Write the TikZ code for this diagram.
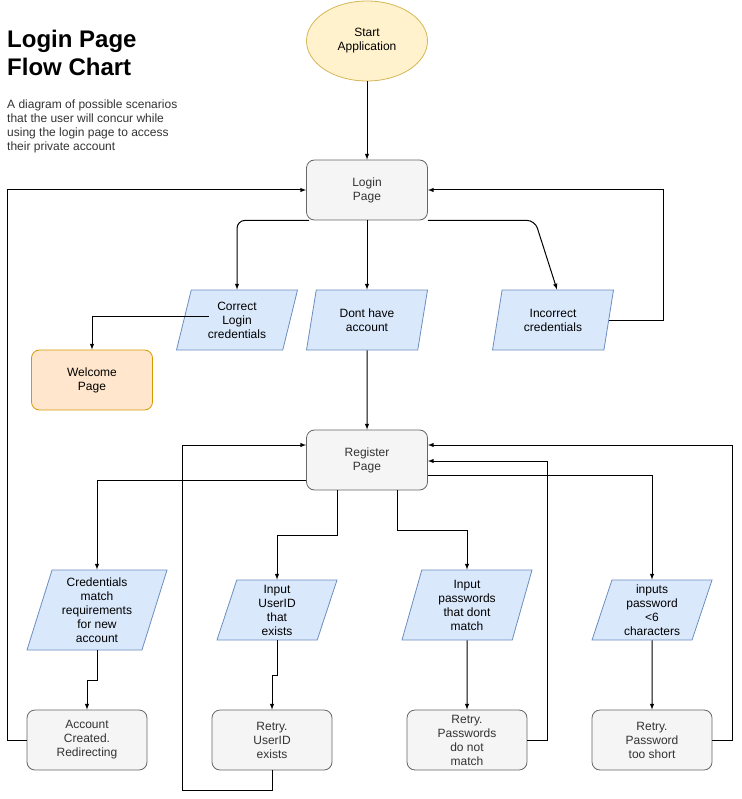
\documentclass[tikz,border=0pt]{standalone}
\usepackage{fontspec}
\setmainfont{Liberation Sans}
\usetikzlibrary{shapes.geometric, arrows}

\definecolor{startfill}{HTML}{FFF2CC}
\definecolor{startdraw}{HTML}{D6B656}
\definecolor{procfill}{HTML}{F5F5F5}
\definecolor{procdraw}{HTML}{666666}
\definecolor{iofill}{HTML}{DAE8FC}
\definecolor{iodraw}{HTML}{6C8EBF}
\definecolor{endfill}{HTML}{FFE6CC}
\definecolor{enddraw}{HTML}{D79B00}
\definecolor{textgray}{HTML}{333333}

\tikzstyle{startstop} = [ellipse, minimum width=121pt, minimum height=80pt, inner sep=0pt, align=center, line width=0.8pt, draw=startdraw, fill=startfill]
\tikzstyle{process} = [rectangle, rounded corners=8pt, minimum width=121pt, minimum height=60pt, inner sep=2pt, align=center, line width=0.8pt, draw=procdraw, fill=procfill, text=textgray]
\tikzstyle{welcome} = [process, draw=enddraw, fill=endfill, text=black]
\tikzstyle{io} = [trapezium, trapezium left angle=70, trapezium right angle=110, trapezium stretches body, minimum width=121pt, minimum height=60pt, inner sep=2pt, align=center, line width=0.8pt, draw=iodraw, fill=iofill]
\tikzstyle{arrow} = [line width=1pt,-latex]

\begin{document}
\begin{tikzpicture}[x=1pt, y=-1pt, font=\fontsize{12}{14}\selectfont]
\useasboundingbox (0,0) rectangle (741,799);

\node (title) [anchor=north west, inner sep=0pt, align=left, font=\fontsize{24}{28}\selectfont\bfseries] at (7,30) {Login Page\\Flow Chart};
\node (about) [anchor=north west, inner sep=0pt, align=left, text=textgray] at (7,100) {A diagram of possible scenarios\\that the user will concur while\\using the login page to access\\their private account};

\node (start) [startstop] at (367,41) {Start\\Application};
\node (login) [process, below of=start, node distance=149pt] {Login\\Page};
\node (dont) [io, below of=login, node distance=130pt] {Dont have\\account};
\node (correct) [io, left of=dont, node distance=130pt] {Correct\\Login\\credentials};
\node (incorrect) [io, right of=dont, node distance=186pt] {Incorrect\\credentials};
\node (welcome) [welcome] at (92,380) {Welcome\\Page};
\node (register) [process, below of=dont, node distance=140pt] {Register\\Page};

\node (cred) [io, minimum width=140pt, minimum height=80pt] at (97,610) {Credentials\\match\\requirements\\for new\\account};
\node (userid) [io, minimum width=120pt] at (277,610) {Input\\UserID\\that\\exists};
\node (pwmatch) [io, minimum width=130pt, minimum height=70pt] at (467,605) {Input\\passwords\\that dont\\match};
\node (pwshort) [io, minimum width=120pt] at (652,610) {inputs\\password\\<6\\characters};

\node (created) [process, minimum width=120pt] at (87,740) {Account\\Created.\\Redirecting};
\node (retryid) [process, minimum width=120pt] at (272,740) {Retry.\\UserID\\exists};
\node (retrypw) [process, minimum width=120pt, below of=pwmatch, node distance=135pt] {Retry.\\Passwords\\do not\\match};
\node (retryshort) [process, minimum width=120pt, below of=pwshort, node distance=130pt] {Retry.\\Password\\too short};

\draw [arrow] (start) -- (login);
\draw [arrow, rounded corners=8pt] ([xshift=3pt]login.south west) -| (correct);
\draw [arrow] (login) -- (dont);
\draw [arrow, rounded corners=8pt] (login.south east) -- ++(107pt,0) -- ([xshift=4pt]incorrect.center |- incorrect.north);
\draw [arrow] (incorrect.east) -- ++(54pt,0) |- (login.east);
\draw [arrow] ([xshift=-28pt,yshift=4pt]correct.center) -| (welcome);
\draw [arrow] (dont) -- (register);

\draw [arrow] ([yshift=-20pt]register.west) -| (cred);
\draw [arrow] ([xshift=-30pt]register.south) -- ++(0,45) -| (userid);
\draw [arrow] ([xshift=30pt]register.south) -- ++(0,40) -| (pwmatch);
\draw [arrow] ([yshift=-15pt]register.east) -| (pwshort);

\draw [arrow] (cred.center |- cred.south) -- ++(0,30) -| (created);
\draw [arrow] (userid.center |- userid.south) -- ++(0,35) -| (retryid);
\draw [arrow] (pwmatch) -- (retrypw);
\draw [arrow] (pwshort) -- (retryshort);

\draw [arrow] (created.west) -- ++(-19pt,0) |- (login.west);
\draw [arrow] (retryid.south) -- ++(0,20) -- ++(-90,0) |- ([yshift=15pt]register.west);
\draw [arrow] (retrypw.east) -- ++(20,0) |- ([yshift=-1pt]register.east);
\draw [arrow] (retryshort.east) -- ++(20,0) |- ([yshift=15pt]register.east);

\end{tikzpicture}
\end{document}
